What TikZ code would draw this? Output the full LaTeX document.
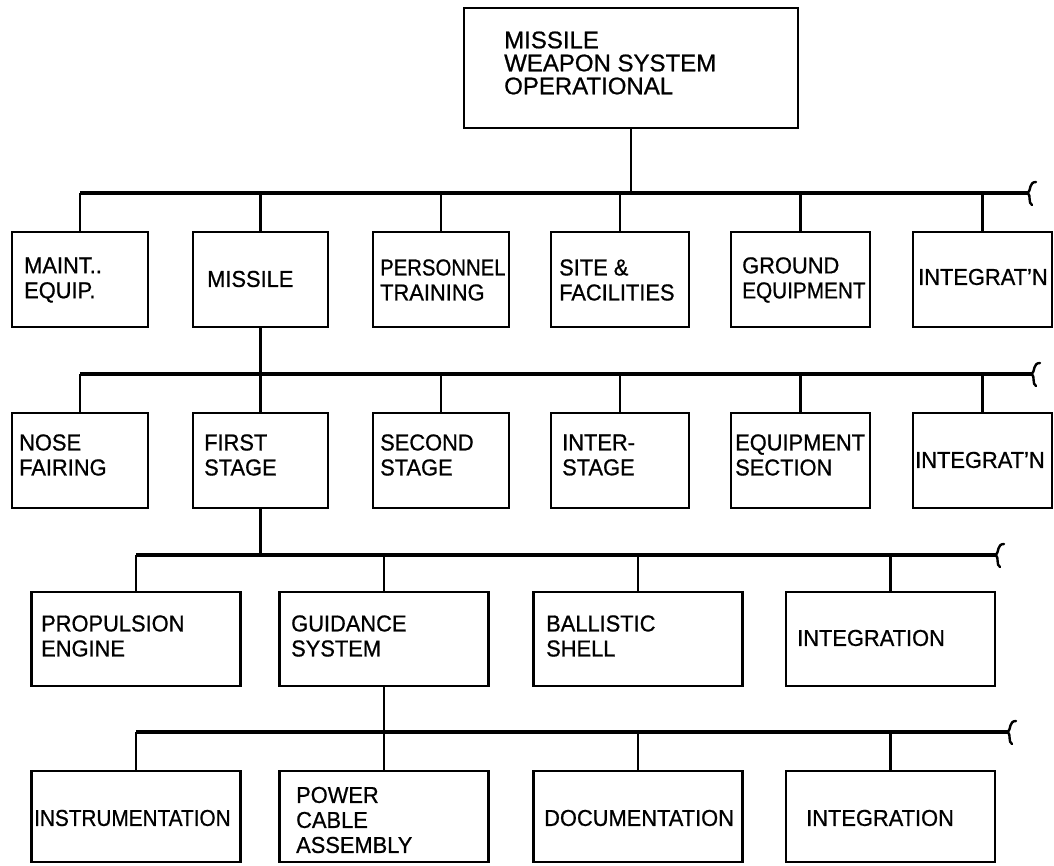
\documentclass[tikz,border=0pt]{standalone}
\usepackage{fontspec}
\setmainfont{Liberation Sans}[FakeStretch=0.95,FakeBold=0.8]
\newfontfamily\topfont{Liberation Sans}[FakeBold=0.8]
\begin{document}
\begin{tikzpicture}[x=1pt,y=-1pt,
  box/.style={draw,line width=2.8pt,inner sep=0pt},
  lbl/.style={anchor=west,inner sep=0pt,align=left,font=\fontsize{23}{25}\selectfont},
  toplbl/.style={anchor=west,inner sep=0pt,align=left,font=\topfont\fontsize{24}{23}\selectfont},
  stem/.style={line width=2.3pt},
  bus/.style={line width=3.8pt},
  sq/.style={line width=2.4pt,line cap=round}]
\useasboundingbox (0,0) rectangle (1054,866);
% top
\node[box,minimum width=334pt,minimum height=120pt] (top) at (631,68) {};
\node[toplbl] (ttop) at (504,63) {MISSILE\\WEAPON SYSTEM\\OPERATIONAL};
% row 1
\foreach \n/\cx/\w in {a1/80/136,a2/260.5/135,a3/441/136,a4/620/138,a5/800.5/139,a6/982.5/139}
  \node[box,minimum width=\w pt,minimum height=95pt] (\n) at (\cx,279.5) {};
\node[lbl] (ta1) at (24,280) {MAINT..\\EQUIP.};
\node[lbl] (ta2) at (207,279) {MISSILE};
\node[lbl] (ta3) at (380,280) {\scalebox{0.93}[1]{PERSONNEL}\\TRAINING};
\node[lbl] (ta4) at (559,280) {SITE \&\\FACILITIES};
\node[lbl] (ta5) at (742,280) {GROUND\\\scalebox{0.95}[1]{EQUIPMENT}};
\node[lbl] (ta6) at (918,277) {INTEGRAT'N};
% row 2
\foreach \n/\cx/\w in {b1/80/136,b2/260.5/135,b3/441/136,b4/620/138,b5/800.5/139,b6/982.5/139}
  \node[box,minimum width=\w pt,minimum height=95pt] (\n) at (\cx,460.5) {};
\node[lbl] (tb1) at (19,455) {NOSE\\FAIRING};
\node[lbl] (tb2) at (204,455) {FIRST\\STAGE};
\node[lbl] (tb3) at (380,455) {SECOND\\STAGE};
\node[lbl] (tb4) at (562,455) {INTER-\\STAGE};
\node[lbl] (tb5) at (735,455) {EQUIPMENT\\SECTION};
\node[lbl] (tb6) at (915,460) {INTEGRAT'N};
% row 3
\foreach \n/\cx in {c1/136,c2/384,c3/638,c4/890.5}
  \node[box,minimum width=209pt,minimum height=94pt] (\n) at (\cx,639) {};
\node[lbl] (tc1) at (41,636) {PROPULSION\\ENGINE};
\node[lbl] (tc2) at (291,636) {GUIDANCE\\SYSTEM};
\node[lbl] (tc3) at (546,636) {BALLISTIC\\SHELL};
\node[lbl] (tc4) at (797,638) {INTEGRATION};
% row 4
\foreach \n/\cx in {d1/136,d2/384,d3/638,d4/890.5}
  \node[box,minimum width=209pt,minimum height=91pt] (\n) at (\cx,816.5) {};
\node[lbl] (td1) at (34,818) {\scalebox{0.95}[1]{INSTRUMENTATION}};
\node[lbl] (td2) at (296,820) {POWER\\CABLE\\ASSEMBLY};
\node[lbl] (td3) at (544,818) {DOCUMENTATION};
\node[lbl] (td4) at (806,818) {INTEGRATION};
% buses
\coordinate (s1) at (80,193);   \coordinate (e1) at (1028,193);
\coordinate (s2) at (80,374);   \coordinate (e2) at (1032,374);
\coordinate (s3) at (136,555);  \coordinate (e3) at (996,555);
\coordinate (s4) at (136,732);  \coordinate (e4) at (1008,732);
\foreach \i in {1,2,3,4} {
  \draw[bus] (s\i) -- (e\i);
  \draw[sq] ([shift={(8,-11)}]e\i) .. controls ([shift={(1,-11)}]e\i) and ([shift={(3,-3)}]e\i) .. (e\i)
     .. controls ([shift={(3,3)}]e\i) and ([shift={(0,10)}]e\i) .. ([shift={(4,12)}]e\i);
}
% stems
\draw[stem] (top.south) -- (top.south |- s1);
\foreach \n in {a1,a2,a3,a4,a5,a6} \draw[stem] (\n.north) -- (\n.north |- s1);
\draw[stem] (a2.south) -- (b2.north);
\foreach \n in {b1,b3,b4,b5,b6} \draw[stem] (\n.north) -- (\n.north |- s2);
\draw[stem] (b2.south) -- (b2.south |- s3);
\foreach \n in {c1,c2,c3,c4} \draw[stem] (\n.north) -- (\n.north |- s3);
\draw[stem] (c2.south) -- (d2.north);
\foreach \n in {d1,d3,d4} \draw[stem] (\n.north) -- (\n.north |- s4);
\end{tikzpicture}
\end{document}
